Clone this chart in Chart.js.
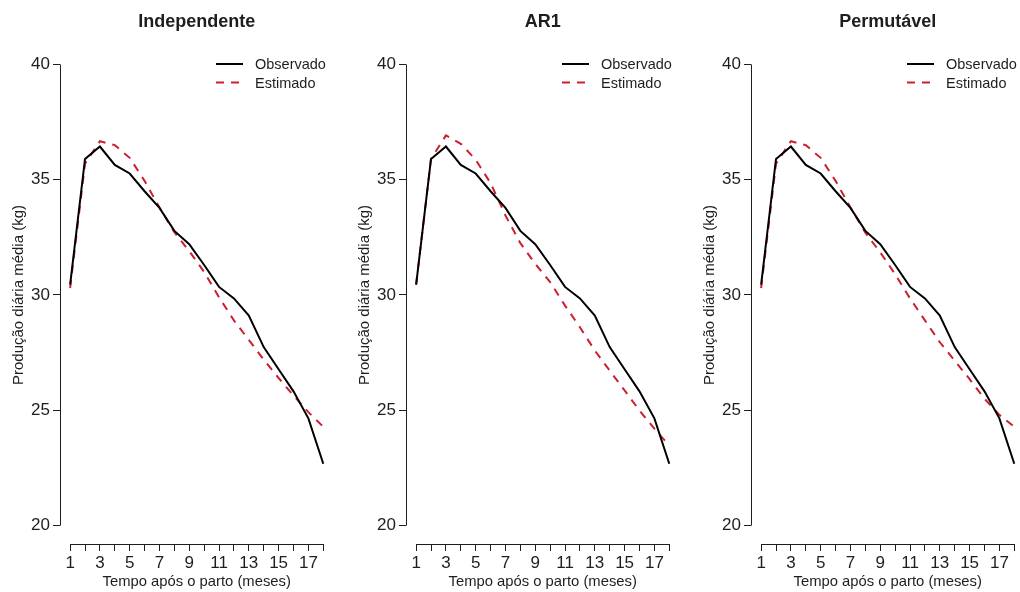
<!DOCTYPE html>
<html>
<head>
<meta charset="utf-8">
<script src="https://cdn.jsdelivr.net/npm/chart.js@4.4.1/dist/chart.umd.min.js"></script>
<style>
  body { margin: 0; background: #fff; width: 1020px; height: 592px; overflow: hidden; position: relative; }
  .panel { position: absolute; top: 0; width: 346px; height: 592px; }
</style>
</head>
<body>
<div class="panel" style="left:0px"><canvas id="c1"></canvas></div>
<div class="panel" style="left:346px"><canvas id="c2"></canvas></div>
<div class="panel" style="left:691px"><canvas id="c3"></canvas></div>
<script>
const months = [1, 2, 3, 4, 5, 6, 7, 8, 9, 10, 11, 12, 13, 14, 15, 16, 17, 18];
const observado = [30.45, 35.9, 36.44, 35.64, 35.27, 34.5, 33.78, 32.78, 32.2, 31.3, 30.35, 29.85, 29.11, 27.74, 26.78, 25.82, 24.65, 22.68];
const estIndependente = [30.3, 35.7, 36.67, 36.5, 35.95, 34.95, 33.8, 32.72, 31.9, 31.0, 29.9, 28.9, 28.05, 27.2, 26.4, 25.64, 24.92, 24.28];
const estAR1 = [30.45, 35.9, 36.92, 36.56, 35.87, 34.85, 33.45, 32.25, 31.35, 30.56, 29.54, 28.6, 27.59, 26.72, 25.86, 24.99, 24.2, 23.47];
const estPermutavel = [30.3, 35.7, 36.67, 36.5, 35.95, 34.95, 33.8, 32.7, 31.85, 30.9, 29.85, 28.9, 27.95, 27.15, 26.35, 25.5, 24.8, 24.28];
const yTicks = [20, 25, 30, 35, 40];
const xLabels = [1, 3, 5, 7, 9, 11, 13, 15, 17];

const panels = [
  { id: 'c1', title: 'Independente', est: estIndependente },
  { id: 'c2', title: 'AR1', est: estAR1 },
  { id: 'c3', title: 'Permutável', est: estPermutavel }
];

const FONT = "'Liberation Sans', Arial, sans-serif";
const INK = '#1e1e1e';
const RED = '#cc1f2f';

// R style axes (only over the tick range) + legend inside the plot
const rStyle = {
  id: 'rStyle',
  afterDraw(chart) {
    const { ctx, chartArea, scales: { x, y } } = chart;
    ctx.save();
    ctx.strokeStyle = INK;
    ctx.lineWidth = 1;
    ctx.beginPath();
    ctx.moveTo(chartArea.left + 0.5, y.getPixelForValue(yTicks[0]));
    ctx.lineTo(chartArea.left + 0.5, y.getPixelForValue(yTicks[yTicks.length - 1]));
    ctx.moveTo(x.getPixelForValue(months[0]), chartArea.bottom + 0.5);
    ctx.lineTo(x.getPixelForValue(months[months.length - 1]), chartArea.bottom + 0.5);
    ctx.stroke();

    // legend
    ctx.font = '14.5px ' + FONT;
    ctx.textBaseline = 'middle';
    ctx.textAlign = 'left';
    chart.data.datasets.forEach((ds, i) => {
      const ly = 64 + i * 18.5;
      ctx.beginPath();
      ctx.strokeStyle = ds.borderColor;
      ctx.lineWidth = 2;
      ctx.setLineDash(ds.borderDash || []);
      ctx.moveTo(216, ly);
      ctx.lineTo(243, ly);
      ctx.stroke();
      ctx.setLineDash([]);
      ctx.fillStyle = INK;
      ctx.fillText(ds.label, 255, ly + 1);
    });
    ctx.restore();
  }
};

panels.forEach(p => {
  new Chart(document.getElementById(p.id), {
    type: 'line',
    data: {
      datasets: [
        {
          label: 'Observado',
          data: months.map((m, i) => ({ x: m, y: observado[i] })),
          borderColor: '#000',
          borderWidth: 2,
          pointRadius: 0,
          tension: 0
        },
        {
          label: 'Estimado',
          data: months.map((m, i) => ({ x: m, y: p.est[i] })),
          borderColor: RED,
          borderWidth: 2,
          borderDash: [8, 7],
          pointRadius: 0,
          tension: 0
        }
      ]
    },
    options: {
      responsive: true,
      maintainAspectRatio: false,
      animation: false,
      layout: { padding: { top: 0, right: 12.6, left: 0, bottom: 0 } },
      plugins: {
        legend: { display: false },
        tooltip: { enabled: false },
        title: {
          display: true,
          text: p.title,
          fullSize: false,
          color: INK,
          font: { family: FONT, size: 18, weight: 'bold' },
          padding: { top: 11.2, bottom: 13.2 }
        }
      },
      scales: {
        x: {
          type: 'linear',
          min: 0.32,
          max: 18.68,
          afterBuildTicks: s => { s.ticks = months.map(v => ({ value: v })); },
          afterFit: s => { s.height = 48; },
          border: { display: false },
          grid: { drawOnChartArea: false, drawTicks: true, tickLength: 7, color: INK },
          ticks: {
            autoSkip: false,
            maxRotation: 0,
            padding: 2,
            color: INK,
            font: { family: FONT, size: 17 },
            callback: v => xLabels.includes(v) ? String(v) : ''
          },
          title: {
            display: true,
            text: 'Tempo após o parto (meses)',
            color: INK,
            font: { family: FONT, size: 14.8 },
            padding: { top: 0, bottom: 1.2 }
          }
        },
        y: {
          min: 19.2,
          max: 40.8,
          afterBuildTicks: s => { s.ticks = yTicks.map(v => ({ value: v })); },
          afterFit: s => { s.width = 60; },
          border: { display: false },
          grid: { drawOnChartArea: false, drawTicks: true, tickLength: 7, color: INK },
          ticks: {
            padding: 3,
            color: INK,
            font: { family: FONT, size: 17 }
          },
          title: {
            display: true,
            text: 'Produção diária média (kg)',
            color: INK,
            font: { family: FONT, size: 15 },
            padding: { top: 10, bottom: 0 }
          }
        }
      }
    },
    plugins: [rStyle]
  });
});
</script>
</body>
</html>
